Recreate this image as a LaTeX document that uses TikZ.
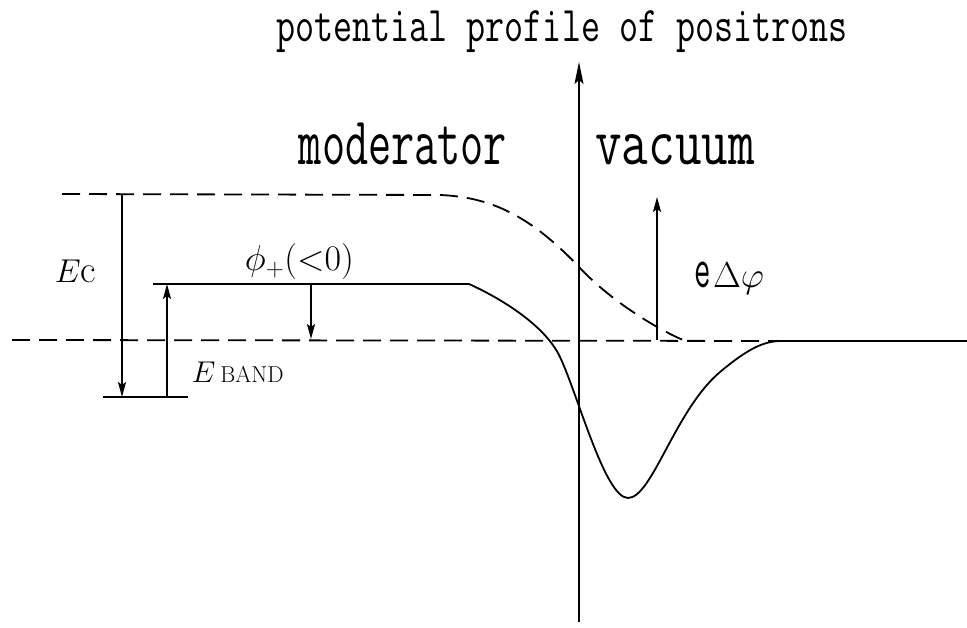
\RequirePackage{fix-cm}
\documentclass[tikz,border=0pt]{standalone}
\usepackage{amsmath,amssymb}
\usetikzlibrary{arrows.meta}

\begin{document}
\begin{tikzpicture}[x=1pt, y=-1pt, line width=1.8pt,
  tip/.style={-{Stealth[length=15pt,width=8pt,inset=3pt]}},
  dsh/.style={dash pattern=on 18pt off 9pt},
  word/.style={font=\fontsize{68}{68}\selectfont\ttfamily, inner sep=0pt, anchor=base},
  lbl/.style={inner sep=0pt, anchor=base west}]
\useasboundingbox (0,0) rectangle (967,628);
\node[word, font=\fontsize{50}{50}\selectfont\ttfamily, xscale=.74] (title) at (562,42) {potential profile of positrons};
\node[word, xscale=.66] (mod) at (403,165) {moderator};
\node[word, xscale=.76] (vac) at (675,165) {vacuum};
\coordinate (ax0) at (579,622);
\coordinate (ax1) at (579,62);
\draw[-{Stealth[length=22pt,width=9pt,inset=4pt]}] (ax0) -- (ax1);
\coordinate (b0) at (12,340);
\coordinate (b1) at (782,341);
\draw[dsh] (b0) -- (b1);
\coordinate (u0) at (62,194);
\coordinate (u1) at (440,195);
\coordinate (u2) at (580,268);
\coordinate (u3) at (683,340);
\draw[dsh] (u0) -- (u1) .. controls (490,197) and (530,215) .. (u2) .. controls (610,300) and (655,328) .. (u3);
\coordinate (f0) at (153,284);
\coordinate (f1) at (469,284);
\coordinate (f2) at (560,357);
\coordinate (fmin) at (628,498);
\coordinate (f3) at (720,372);
\coordinate (f4) at (967,341);
\draw (f0) -- (f1) .. controls (500,298) and (545,325) .. (f2)
  .. controls (578,395) and (605,498) .. (fmin)
  .. controls (652,498) and (675,410) .. (f3)
  .. controls (750,347) and (765,341) .. (b1) -- (f4);
\coordinate (ec0) at (122,194);
\coordinate (ec1) at (122,397);
\draw[tip] (ec0) -- (ec1);
\coordinate (bot0) at (103,397);
\coordinate (bot1) at (188,397);
\draw (bot0) -- (bot1);
\coordinate (eb0) at (167,397);
\coordinate (eb1) at (167,284);
\draw[tip] (eb0) -- (eb1);
\coordinate (ph0) at (311,284);
\coordinate (ph1) at (311,339);
\draw[tip] (ph0) -- (ph1);
\coordinate (dp0) at (657,340);
\coordinate (dp1) at (657,197);
\draw[tip] (dp0) -- (dp1);
\node[lbl] (ec) at (54,283) {\fontsize{33}{33}\selectfont$E$\fontsize{38}{38}\selectfont c};
\node[lbl] (phi) at (244,271) {\fontsize{36}{36}\selectfont$\phi_+({<}0)$};
\node[lbl] (eb) at (191,383) {\fontsize{30}{30}\selectfont$E$\,\fontsize{23}{23}\selectfont BAND};
\node[lbl] (edp) at (694,288) {\scalebox{.55}[1]{\fontsize{58}{58}\selectfont\ttfamily e}\,\fontsize{36}{36}\selectfont$\Delta\varphi$};
\end{tikzpicture}
\end{document}
